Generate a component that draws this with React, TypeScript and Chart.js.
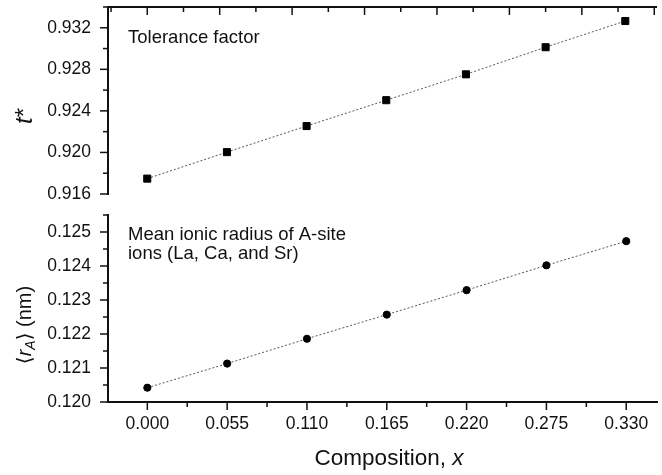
import React, { useEffect, useRef } from "react";
import { Chart, registerables } from "chart.js";

Chart.register(...registerables);

// ---- data ----
const composition = [0, 0.055, 0.11, 0.165, 0.22, 0.275, 0.33];
const toleranceFactor = [0.91748, 0.92003, 0.92254, 0.92503, 0.92752, 0.93013, 0.93265];
const meanRadius = [0.12042, 0.12113, 0.12186, 0.12257, 0.12329, 0.12402, 0.12473];

// ---- tick labels ----
const xTickValues = [0, 0.055, 0.11, 0.165, 0.22, 0.275, 0.33];
const topAxisTickValues = [0, 0.05, 0.1, 0.15, 0.2, 0.25, 0.3, 0.35];
const tTickValues = [0.916, 0.92, 0.924, 0.928, 0.932];
const rTickValues = [0.12, 0.121, 0.122, 0.123, 0.124, 0.125];

const X_MIN = -0.0271;
const X_MAX = 0.3512;
const T_MIN = 0.916;
const T_MAX = 0.934;
const R_MIN = 0.12;
const R_MAX = 0.1255;

const FAMILY = "'Liberation Sans', Arial, 'DejaVu Sans', sans-serif";
const INK = "#111";

function minorOf(major: number[]): number[] {
  const out: number[] = [];
  for (let i = 0; i < major.length; i++) {
    const step = i < major.length - 1 ? major[i + 1] - major[i] : major[i] - major[i - 1];
    if (i === 0) out.push(major[0] - step / 2);
    out.push(major[i] + step / 2);
  }
  return out;
}

type TickSpec = { axis: string; side: "left" | "top" | "bottom"; major: number[]; minor: number[] };

function tickPlugin(specs: TickSpec[]) {
  return {
    id: "tickMarks",
    afterDraw(chart: any) {
      const ctx = chart.ctx;
      const area = chart.chartArea;
      ctx.save();
      ctx.strokeStyle = INK;
      ctx.lineWidth = 1.5;
      for (const s of specs) {
        const scale = chart.scales[s.axis];
        const draw = (v: number, len: number) => {
          if (v < scale.min - 1e-9 || v > scale.max + 1e-9) return;
          const p = scale.getPixelForValue(v);
          ctx.beginPath();
          if (s.side === "left") {
            ctx.moveTo(area.left, p);
            ctx.lineTo(area.left - len, p);
          } else if (s.side === "top") {
            ctx.moveTo(p, area.top);
            ctx.lineTo(p, area.top + len);
          } else {
            ctx.moveTo(p, area.bottom);
            ctx.lineTo(p, area.bottom + len);
          }
          ctx.stroke();
        };
        s.major.forEach((v) => draw(v, 8));
        s.minor.forEach((v) => draw(v, 5));
      }
      ctx.restore();
    },
  };
}

type Run = { text: string; font: string; dy?: number };

function drawRuns(ctx: CanvasRenderingContext2D, runs: Run[], x: number, y: number, center: boolean) {
  let total = 0;
  for (const r of runs) {
    ctx.font = r.font;
    total += ctx.measureText(r.text).width;
  }
  let cx = center ? x - total / 2 : x;
  for (const r of runs) {
    ctx.font = r.font;
    ctx.fillText(r.text, cx, y + (r.dy || 0));
    cx += ctx.measureText(r.text).width;
  }
}

type TextItem = { runs: Run[]; x: number; y: number; center: boolean; rotate?: boolean };

function textPlugin(items: TextItem[]) {
  return {
    id: "texts",
    afterDraw(chart: any) {
      const ctx = chart.ctx as CanvasRenderingContext2D;
      ctx.save();
      ctx.fillStyle = INK;
      ctx.textBaseline = "alphabetic";
      ctx.textAlign = "left";
      for (const it of items) {
        if (it.rotate) {
          ctx.save();
          ctx.translate(it.x, it.y);
          ctx.rotate(-Math.PI / 2);
          drawRuns(ctx, it.runs, 0, 0, true);
          ctx.restore();
        } else {
          drawRuns(ctx, it.runs, it.x, it.y, it.center);
        }
      }
      ctx.restore();
    },
  };
}

const f = (size: number, italic = false) => `${italic ? "italic " : ""}${size}px ${FAMILY}`;

const TOP_H = 205;
const BOT_H = 270;

export default function App() {
  const topRef = useRef<HTMLCanvasElement>(null);
  const botRef = useRef<HTMLCanvasElement>(null);

  useEffect(() => {
    const tickFont = { family: FAMILY, size: 17.5 };
    const yScaleCommon = {
      type: "linear" as const,
      position: "left" as const,
      grid: { display: false, drawTicks: false },
      border: { display: true, color: INK, width: 2 },
      afterFit: (s: any) => {
        s.width = 108;
        s.paddingTop = 0;
        s.paddingBottom = 0;
      },
    };

    const top = new Chart(topRef.current!, {
      type: "scatter",
      data: {
        datasets: [
          {
            data: composition.map((x, i) => ({ x, y: toleranceFactor[i] })),
            showLine: true,
            borderColor: "#555",
            borderWidth: 1,
            borderDash: [2, 2],
            pointStyle: "rect",
            pointRadius: 5,
            pointBorderWidth: 1,
            pointBackgroundColor: "#000",
            pointBorderColor: "#000",
          },
        ],
      },
      options: {
        responsive: false,
        animation: false,
        devicePixelRatio: 1,
        layout: { padding: { left: 0, right: 0, top: 0, bottom: 11 } },
        plugins: { legend: { display: false }, tooltip: { enabled: false } },
        scales: {
          x: {
            type: "linear",
            position: "top",
            min: X_MIN,
            max: X_MAX,
            grid: { display: false, drawTicks: false },
            border: { display: true, color: INK, width: 2 },
            ticks: { display: false },
            afterFit: (s: any) => {
              s.height = 7;
              s.paddingLeft = 0;
              s.paddingRight = 0;
            },
          },
          y: {
            ...yScaleCommon,
            min: T_MIN,
            max: T_MAX,
            ticks: {
              padding: 17,
              font: tickFont,
              color: INK,
              autoSkip: false,
              callback: (v: any) => Number(v).toFixed(3),
            },
            afterBuildTicks: (s: any) => {
              s.ticks = tTickValues.map((value) => ({ value }));
            },
          },
        },
      } as any,
      plugins: [
        tickPlugin([
          { axis: "y", side: "left", major: tTickValues, minor: minorOf(tTickValues) },
          { axis: "x", side: "top", major: topAxisTickValues, minor: minorOf(topAxisTickValues) },
        ]),
        textPlugin([
          { runs: [{ text: "Tolerance factor", font: f(18.5) }], x: 128, y: 43, center: false },
          {
            runs: [
              { text: "t", font: f(24, true) },
              { text: "*", font: f(24) },
            ],
            x: 32,
            y: 116,
            center: true,
            rotate: true,
          },
        ]),
      ],
    });

    const bot = new Chart(botRef.current!, {
      type: "scatter",
      data: {
        datasets: [
          {
            data: composition.map((x, i) => ({ x, y: meanRadius[i] })),
            showLine: true,
            borderColor: "#555",
            borderWidth: 1,
            borderDash: [2, 2],
            pointStyle: "circle",
            pointRadius: 3.6,
            pointBorderWidth: 1,
            pointBackgroundColor: "#000",
            pointBorderColor: "#000",
          },
        ],
      },
      options: {
        responsive: false,
        animation: false,
        devicePixelRatio: 1,
        layout: { padding: { left: 0, right: 0, top: 10, bottom: 0 } },
        plugins: { legend: { display: false }, tooltip: { enabled: false } },
        scales: {
          x: {
            type: "linear",
            position: "bottom",
            min: X_MIN,
            max: X_MAX,
            grid: { display: false, drawTicks: false },
            border: { display: true, color: INK, width: 2 },
            ticks: {
              padding: 12,
              font: tickFont,
              color: INK,
              autoSkip: false,
              maxRotation: 0,
              minRotation: 0,
              callback: (v: any) => Number(v).toFixed(3),
            },
            afterBuildTicks: (s: any) => {
              s.ticks = xTickValues.map((value) => ({ value }));
            },
            afterFit: (s: any) => {
              s.height = 73;
              s.paddingLeft = 0;
              s.paddingRight = 0;
            },
          },
          y: {
            ...yScaleCommon,
            min: R_MIN,
            max: R_MAX,
            ticks: {
              padding: 17,
              font: tickFont,
              color: INK,
              autoSkip: false,
              callback: (v: any) => Number(v).toFixed(3),
            },
            afterBuildTicks: (s: any) => {
              s.ticks = rTickValues.map((value) => ({ value }));
            },
          },
        },
      } as any,
      plugins: [
        tickPlugin([
          { axis: "y", side: "left", major: rTickValues, minor: minorOf(rTickValues) },
          { axis: "x", side: "bottom", major: xTickValues, minor: minorOf(xTickValues) },
        ]),
        textPlugin([
          { runs: [{ text: "Mean ionic radius of A-site", font: f(18.5) }], x: 128, y: 239.5 - TOP_H, center: false },
          { runs: [{ text: "ions (La, Ca, and Sr)", font: f(18.5) }], x: 128, y: 259 - TOP_H, center: false },
          {
            runs: [
              { text: "Composition, ", font: f(22.5) },
              { text: "x", font: f(22.5, true) },
            ],
            x: 389,
            y: 465 - TOP_H,
            center: true,
          },
          {
            runs: [
              { text: "\u27E8", font: f(20) },
              { text: "r", font: f(20, true) },
              { text: "A", font: f(14, true), dy: 4 },
              { text: "\u27E9", font: f(20) },
              { text: " (nm)", font: f(20) },
            ],
            x: 31,
            y: 325 - TOP_H,
            center: true,
            rotate: true,
          },
        ]),
      ],
    });

    return () => {
      top.destroy();
      bot.destroy();
    };
  }, []);

  return (
    <div style={{ position: "absolute", left: 0, top: 0, width: 662, height: 475, background: "#fff" }}>
      <canvas ref={topRef} width={662} height={TOP_H} style={{ position: "absolute", left: 0, top: 0 }} />
      <canvas ref={botRef} width={662} height={BOT_H} style={{ position: "absolute", left: 0, top: TOP_H }} />
    </div>
  );
}
